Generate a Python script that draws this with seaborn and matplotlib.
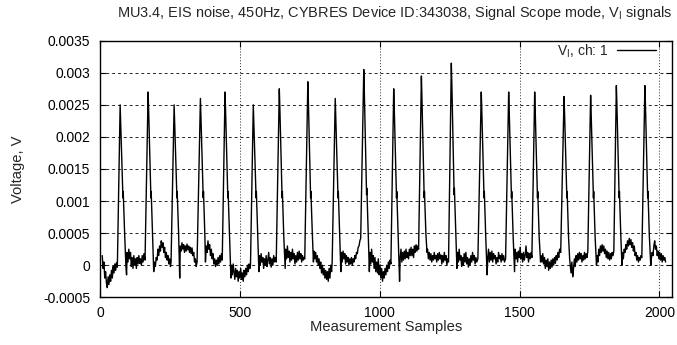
import numpy as np
import pandas as pd
import matplotlib
matplotlib.use("Agg")
import matplotlib.pyplot as plt
import seaborn as sns

# ---- data: (sample index, voltage in mV) ----
seg00 = [(8,0.15),(11,-0.05),(14,0.05),(17,-0.2),(20,-0.1),(23,-0.28),(26,-0.35),(29,-0.18),(32,-0.3),(35,-0.15),(38,-0.25),(41,-0.08),(44,-0.2),(47,-0.02),(50,-0.12),(53,0.02),(56,-0.08),(59,0.04),(62,-0.03),
         (72,2.5),(74,2.2),(81,1.2),(82,1.05),(83,1.15),(88,0.5),(93,-0.05),(95,-0.15)]
seg01 = [(97,0.2),(100,0.05),(103,0.25),(106,0.1),(109,0.2),(112,-0.02),(115,0.12),(118,-0.05),(121,0.15),(124,0.0),(127,0.1),(130,-0.05),(133,0.12),(136,0.02),(139,0.15),(142,0.03),(145,0.1),(148,0.0),(151,0.15),(154,0.05),(157,0.18),(161,0.08),
         (172,2.7),(174,2.4),(181,1.2),(182,1.05),(183,1.15),(188,0.45),(192,-0.1)]
seg02 = [(195,0.05),(198,-0.02),(201,0.12),(204,0.08),(207,0.25),(210,0.15),(213,0.3),(216,0.22),(219,0.38),(222,0.28),(225,0.35),(228,0.2),(231,0.28),(234,0.12),(237,0.2),(240,0.08),(243,0.15),(246,0.02),(249,0.1),(252,-0.02),(254,0.05),
         (265,2.5),(267,2.2),(274,1.2),(275,1.05),(276,1.15),(281,0.5),(285,-0.2)]
seg03 = [(287,0.3),(290,0.22),(293,0.35),(296,0.25),(299,0.32),(302,0.2),(305,0.3),(308,0.22),(311,0.33),(314,0.24),(317,0.3),(320,0.2),(323,0.28),(326,0.18),(329,0.27),(332,0.15),(335,0.2),(338,0.05),(341,0.1),(344,-0.02),(347,0.05),
         (359,2.6),(361,2.3),(368,1.2),(369,1.05),(370,1.15),(375,0.45),(377,0.05)]
seg04 = [(380,0.3),(383,0.2),(386,0.38),(389,0.25),(392,0.32),(395,0.15),(398,0.25),(401,0.1),(404,0.18),(407,0.02),(410,0.1),(413,-0.02),(416,0.08),(419,0.0),(422,0.12),(425,0.02),(428,0.15),(431,0.05),(434,0.18),(437,0.08),
         (447,2.7),(449,2.4),(456,1.2),(457,1.05),(458,1.15),(463,0.45),(468,-0.2)]
seg05 = [(470,0.0),(473,-0.15),(476,0.02),(479,-0.1),(482,-0.22),(485,-0.05),(488,-0.18),(491,-0.08),(494,-0.25),(497,-0.1),(500,-0.2),(503,-0.05),(506,-0.22),(509,-0.12),(512,-0.25),(515,-0.08),(518,-0.18),(521,-0.05),(524,-0.15),(527,0.0),(530,-0.1),(533,0.02),(536,-0.05),(538,0.0),
         (548,2.5),(550,2.2),(557,1.2),(558,1.05),(559,1.15),(564,0.45),(568,-0.1)]
seg06 = [(570,0.15),(573,0.0),(576,0.18),(579,0.05),(582,0.12),(585,-0.05),(588,0.1),(591,0.0),(594,0.15),(597,-0.02),(600,0.08),(603,0.2),(606,0.02),(609,0.12),(612,-0.03),(615,0.1),(618,0.0),(621,0.15),(624,0.05),(627,0.12),(630,0.05),
         (641,2.75),(643,2.45),(650,1.2),(651,1.05),(652,1.15),(657,0.45),(662,-0.05)]
seg07 = [(664,0.25),(667,0.1),(670,0.3),(673,0.12),(676,0.22),(679,0.05),(682,0.2),(685,0.08),(688,0.25),(691,0.1),(694,0.18),(697,0.02),(700,0.15),(703,0.05),(706,0.2),(709,0.08),(712,0.22),(715,0.1),(718,0.18),(721,0.05),(724,0.15),(727,0.08),(730,0.12),(732,0.1),
         (743,2.86),(745,2.55),(752,1.2),(753,1.05),(754,1.15),(759,0.5),(763,0.05)]
seg08 = [(765,0.22),(768,0.1),(771,0.2),(774,0.05),(777,0.15),(780,0.0),(783,0.1),(786,-0.05),(789,0.05),(792,-0.12),(795,0.0),(798,-0.15),(801,-0.05),(804,-0.2),(807,-0.08),(810,-0.22),(813,-0.1),(816,-0.25),(819,-0.05),(822,-0.2),(825,0.0),(828,-0.1),(830,0.05),
         (841,2.6),(843,2.3),(850,1.2),(851,1.05),(852,1.15),(857,0.45),(861,-0.1)]
seg09 = [(863,0.2),(866,0.05),(869,0.22),(872,0.1),(875,0.18),(878,0.02),(881,0.15),(884,0.05),(887,0.12),(890,0.0),(893,0.1),(896,0.02),(899,0.12),(902,0.0),(905,0.1),(908,0.05),(911,0.15),(914,0.1),(917,0.2),(920,0.18),(923,0.28),(926,0.3),(929,0.38),(932,0.42),
         (943,3.05),(945,2.7),(952,1.25),(953,1.1),(954,1.2),(959,0.5),(963,-0.1)]
seg10 = [(965,0.2),(968,0.02),(971,0.25),(974,0.05),(977,0.15),(980,-0.05),(983,0.12),(986,-0.1),(989,0.05),(992,-0.12),(995,0.1),(998,-0.15),(1001,0.0),(1004,-0.2),(1007,-0.05),(1010,-0.25),(1013,-0.1),(1016,-0.2),(1019,-0.05),(1022,-0.15),(1025,0.0),(1028,-0.1),(1031,0.05),(1034,-0.05),(1037,0.08),(1040,0.02),
         (1050,2.75),(1052,2.45),(1059,1.2),(1060,1.05),(1061,1.15),(1066,0.45),(1071,-0.25)]
seg11 = [(1073,0.1),(1076,0.25),(1079,0.05),(1082,0.2),(1085,0.08),(1088,0.22),(1091,0.1),(1094,0.25),(1097,0.12),(1100,0.2),(1103,0.1),(1106,0.25),(1109,0.15),(1112,0.28),(1115,0.15),(1118,0.25),(1121,0.12),(1124,0.3),(1127,0.2),(1130,0.32),(1133,0.22),(1136,0.3),(1139,0.25),
         (1149,2.95),(1151,2.6),(1158,1.2),(1159,1.05),(1160,1.15),(1165,0.5),(1169,0.2)]
seg12 = [(1171,0.25),(1174,0.1),(1177,0.2),(1180,0.08),(1183,0.18),(1186,0.05),(1189,0.15),(1192,0.08),(1195,0.2),(1198,0.1),(1201,0.15),(1204,0.05),(1207,0.18),(1210,0.08),(1213,0.2),(1216,0.1),(1219,0.16),(1222,0.02),(1225,0.15),(1228,0.05),(1231,0.2),(1234,0.08),(1237,0.15),(1240,0.0),(1243,0.1),(1246,0.05),
         (1256,3.15),(1258,2.8),(1265,1.3),(1266,1.1),(1267,1.2),(1272,0.5),(1276,-0.05)]
seg13 = [(1278,0.2),(1281,0.05),(1284,0.25),(1287,0.08),(1290,0.15),(1293,-0.02),(1296,0.12),(1299,0.0),(1302,0.18),(1305,0.05),(1308,0.2),(1311,0.02),(1314,0.12),(1317,-0.03),(1320,0.1),(1323,0.0),(1326,0.15),(1329,0.05),(1332,0.2),(1335,0.08),(1338,0.15),(1341,0.02),(1344,0.12),(1347,0.05),(1351,0.1),
         (1363,2.7),(1365,2.4),(1372,1.2),(1373,1.05),(1374,1.15),(1379,0.45),(1384,-0.15)]
seg14 = [(1386,0.1),(1389,0.25),(1392,0.05),(1395,0.2),(1398,0.08),(1401,0.22),(1404,0.05),(1407,0.18),(1410,0.1),(1413,0.15),(1416,0.02),(1419,0.12),(1422,0.05),(1425,0.2),(1428,0.1),(1431,0.15),(1434,0.05),(1437,0.18),(1440,0.08),(1443,0.15),(1446,0.05),(1450,0.1),
         (1461,2.7),(1463,2.4),(1470,1.2),(1471,1.05),(1472,1.15),(1477,0.45),(1482,-0.1)]
seg15 = [(1484,0.25),(1487,0.1),(1490,0.2),(1493,0.05),(1496,0.22),(1499,0.12),(1502,0.28),(1505,0.1),(1508,0.18),(1511,0.05),(1514,0.2),(1517,0.08),(1520,0.15),(1523,0.3),(1526,0.12),(1529,0.2),(1532,0.05),(1535,0.18),(1538,0.1),(1541,0.2),(1544,0.12),
         (1554,2.7),(1556,2.4),(1563,1.2),(1564,1.05),(1565,1.15),(1570,0.45),(1575,0.05)]
seg16 = [(1577,0.15),(1580,0.05),(1583,0.18),(1586,0.02),(1589,0.12),(1592,-0.05),(1595,0.08),(1598,-0.02),(1601,0.1),(1604,-0.08),(1607,0.05),(1610,-0.05),(1613,0.08),(1616,-0.03),(1619,0.1),(1622,0.0),(1625,0.12),(1628,0.03),(1631,0.15),(1634,0.08),(1637,0.2),(1640,0.12),(1643,0.25),(1647,0.2),
         (1659,2.63),(1661,2.35),(1668,1.2),(1669,1.05),(1670,1.15),(1675,0.45),(1679,0.1)]
seg17 = [(1681,0.0),(1684,-0.12),(1687,0.05),(1690,-0.18),(1693,-0.05),(1696,0.1),(1699,-0.02),(1702,0.15),(1705,0.05),(1708,0.18),(1711,0.08),(1714,0.2),(1717,0.1),(1720,0.18),(1723,0.05),(1726,0.15),(1729,0.08),(1732,0.2),(1735,0.1),(1738,0.18),(1741,0.12),(1744,0.22),
         (1754,2.65),(1756,2.35),(1763,1.2),(1764,1.05),(1765,1.15),(1770,0.45),(1775,0.0)]
seg18 = [(1777,0.15),(1780,0.05),(1783,0.25),(1786,0.15),(1789,0.3),(1792,0.2),(1795,0.32),(1798,0.22),(1801,0.3),(1804,0.18),(1807,0.25),(1810,0.12),(1813,0.22),(1816,0.1),(1819,0.2),(1822,0.08),(1825,0.18),(1828,0.1),(1831,0.2),(1834,0.15),(1837,0.22),
         (1846,2.8),(1848,2.5),(1855,1.2),(1856,1.05),(1857,1.15),(1862,0.45),(1866,0.0)]
seg19 = [(1868,0.2),(1871,0.1),(1874,0.25),(1877,0.2),(1880,0.32),(1883,0.25),(1886,0.38),(1889,0.3),(1892,0.42),(1895,0.32),(1898,0.4),(1901,0.28),(1904,0.35),(1907,0.22),(1910,0.3),(1913,0.15),(1916,0.2),(1919,0.08),(1922,0.15),(1925,0.05),(1928,0.12),(1931,0.08),(1934,0.15),(1937,0.12),
         (1948,2.8),(1950,2.5),(1957,1.2),(1958,1.05),(1959,1.15),(1964,0.45),(1969,0.0)]
seg20 = [(1971,0.1),(1974,0.2),(1977,0.15),(1980,0.3),(1983,0.38),(1986,0.25),(1989,0.3),(1992,0.15),(1995,0.22),(1998,0.1),(2001,0.2),(2004,0.08),(2007,0.18),(2010,0.05),(2013,0.15),(2016,0.08),(2019,0.12),(2022,0.05)]

x_ticks = [0, 500, 1000, 1500, 2000]
x_tick_labels = ["0", "500", "1000", "1500", "2000"]
y_ticks = [-0.0005, 0, 0.0005, 0.001, 0.0015, 0.002, 0.0025, 0.003, 0.0035]
y_tick_labels = ["-0.0005", "0", "0.0005", "0.001", "0.0015", "0.002", "0.0025", "0.003", "0.0035"]
title_text = "MU3.4, EIS noise, 450Hz, CYBRES Device ID:343038, Signal Scope mode, $V_I$ signals"
series_label = "$V_I$, ch: 1"
x_label = "Measurement Samples"
y_label = "Voltage, V"

# ---- build table ----
segments = [seg00, seg01, seg02, seg03, seg04, seg05, seg06, seg07, seg08, seg09, seg10,
            seg11, seg12, seg13, seg14, seg15, seg16, seg17, seg18, seg19, seg20]
pts = [p for seg in segments for p in seg]
df = pd.DataFrame({"Sample": [p[0] for p in pts],
                   "Voltage": [p[1] / 1000.0 for p in pts]})

sns.set_style("ticks")
plt.rcParams["font.family"] = ["Liberation Sans", "DejaVu Sans"]
plt.rcParams["mathtext.fontset"] = "custom"
plt.rcParams["mathtext.rm"] = "Liberation Sans"
plt.rcParams["mathtext.it"] = "Liberation Sans"
plt.rcParams["mathtext.default"] = "regular"

W, H = 677, 345
fig = plt.figure(figsize=(W / 100, H / 100), dpi=100)
L, R, T, B = 100, 672.3, 40.7, 297.3
ax = fig.add_axes([L / W, 1 - B / H, (R - L) / W, (B - T) / H])

sns.lineplot(data=df, x="Sample", y="Voltage", ax=ax, color="black", linewidth=1.0,
             estimator=None, sort=False, label=series_label)

ax.set_xlim(0, 2046)
ax.set_ylim(-0.0005, 0.0035)
ax.set_xticks(x_ticks)
ax.set_xticklabels(x_tick_labels)
ax.set_yticks(y_ticks)
ax.set_yticklabels(y_tick_labels)

ax.yaxis.grid(True, linestyle=(0, (3, 3)), color="0.15", linewidth=0.7)
ax.xaxis.grid(True, linestyle=(0, (1, 2)), color="0.15", linewidth=0.7)
ax.set_axisbelow(True)

for s in ax.spines.values():
    s.set_visible(True)
    s.set_color("black")
    s.set_linewidth(1.0)

ax.tick_params(axis="both", direction="in", top=True, right=True, length=4, width=0.8,
               labelsize=10, colors="black")
ax.tick_params(axis="x", pad=6)
ax.tick_params(axis="y", pad=7)

ax.set_xlabel(x_label, fontsize=10.6)
ax.set_ylabel(y_label, fontsize=10.6)
ax.xaxis.label.set_va("center")
ax.yaxis.label.set_va("center")
ax.xaxis.set_label_coords((386 - L) / (R - L), (B - 327) / (B - T))
ax.yaxis.set_label_coords((18 - L) / (R - L), 0.5)

fig.text(395 / W, 1 - 13 / H, title_text, ha="center", va="center", fontsize=10.45)

ax.legend(loc="center right", bbox_to_anchor=((656 - L) / (R - L), 1 - (51 - T) / (B - T)),
          frameon=False, markerfirst=False, handlelength=2.8, handletextpad=0.6,
          borderpad=0, borderaxespad=0, fontsize=10)

fig.savefig("out.png", dpi=100)
